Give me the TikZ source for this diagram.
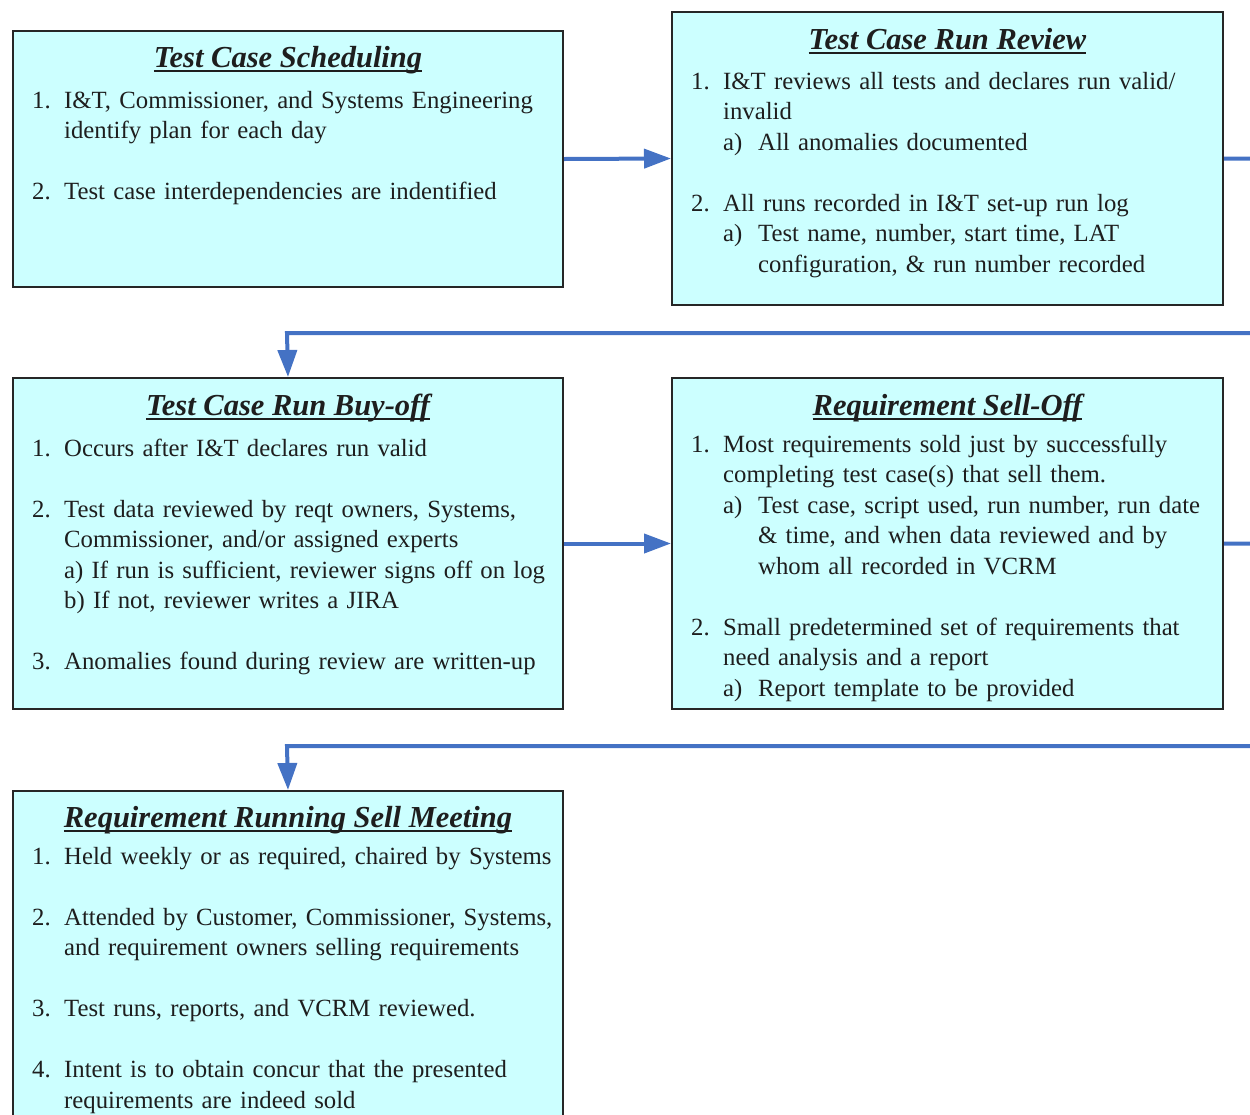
\documentclass[tikz,border=0pt]{standalone}
\usepackage{fontspec}
\setmainfont{Liberation Serif}
\usetikzlibrary{arrows.meta}
\definecolor{boxfill}{RGB}{204,255,255}
\definecolor{arrblue}{RGB}{68,114,196}
\definecolor{txt}{RGB}{30,30,30}
\newcommand\ttl[1]{\setbox0=\hbox{#1}\rlap{\rule[-5bp]{\wd0}{2bp}}\box0}
\newcommand\NI[2]{\makebox[32bp][l]{#1}#2}
\newcommand\CI[1]{\hspace*{32bp}#1}
\newcommand\SI[2]{\hspace*{32bp}\makebox[35bp][l]{#1}#2}
\newcommand\SC[1]{\hspace*{67bp}#1}
\tikzset{
  box/.style={draw=black!85, line width=2bp, fill=boxfill, inner sep=0pt, anchor=north west},
  ttlstyle/.style={anchor=base, inner sep=0pt, text=txt, font=\fontsize{30.5bp}{36bp}\selectfont\bfseries\itshape},
  body/.style={anchor=base west, inner sep=0pt, text=txt, text width=600bp, align=left, font=\fontsize{24.75bp}{30.55bp}\selectfont},
  arr/.style={draw=arrblue, line width=4bp, -{Triangle[length=27bp,width=19bp]}}
}
\begin{document}
\begin{tikzpicture}[x=1bp,y=-1bp]
\useasboundingbox (0,0) rectangle (1250,1115);
\clip (0,0) rectangle (1250,1115);
% boxes
\node[box, minimum width=550bp, minimum height=256bp] (b1) at (12,30) {};
\node[box, minimum width=551bp, minimum height=293bp] (b2) at (671,11) {};
\node[box, minimum width=550bp, minimum height=331bp] (b3) at (12,377) {};
\node[box, minimum width=551bp, minimum height=331bp] (b4) at (671,377) {};
\node[box, minimum width=550bp, minimum height=345bp] (b5) at (12,790) {};
% titles
\node[ttlstyle] (t1) at (b1.center |- 0,67) {\ttl{Test Case Scheduling}};
\node[ttlstyle] (t2) at (b2.center |- 0,49) {\ttl{Test Case Run Review}};
\node[ttlstyle] (t3) at (b3.center |- 0,415) {\ttl{Test Case Run Buy-off}};
\node[ttlstyle] (t4) at (b4.center |- 0,415) {\ttl{Requirement Sell-Off}};
\node[ttlstyle] (t5) at (b5.center |- 0,827) {\ttl{Requirement Running Sell Meeting}};
% bodies
\node[body] (x1) at (32,108) {\NI{1.}{I\&T, Commissioner, and Systems Engineering}\\
\CI{identify plan for each day}\\[30.55bp]
\NI{2.}{Test case interdependencies are indentified}};
\node[body] (x2) at (691,89) {\NI{1.}{I\&T reviews all tests and declares run valid/}\\
\CI{invalid}\\
\SI{a)}{All anomalies documented}\\[30.55bp]
\NI{2.}{All runs recorded in I\&T set-up run log}\\
\SI{a)}{Test name, number, start time, LAT}\\
\SC{configuration, \& run number recorded}};
\node[body] (x3) at (32,456) {\NI{1.}{Occurs after I\&T declares run valid}\\[30.55bp]
\NI{2.}{Test data reviewed by reqt owners, Systems,}\\
\CI{Commissioner, and/or assigned experts}\\
\CI{a) If run is sufficient, reviewer signs off on log}\\
\CI{b) If not, reviewer writes a JIRA}\\[30.55bp]
\NI{3.}{Anomalies found during review are written-up}};
\node[body] (x4) at (691,452) {\NI{1.}{Most requirements sold just by successfully}\\
\CI{completing test case(s) that sell them.}\\
\SI{a)}{Test case, script used, run number, run date}\\
\SC{\& time, and when data reviewed and by}\\
\SC{whom all recorded in VCRM}\\[30.55bp]
\NI{2.}{Small predetermined set of requirements that}\\
\CI{need analysis and a report}\\
\SI{a)}{Report template to be provided}};
\node[body] (x5) at (32,864) {\NI{1.}{Held weekly or as required, chaired by Systems}\\[30.55bp]
\NI{2.}{Attended by Customer, Commissioner, Systems,}\\
\CI{and requirement owners selling requirements}\\[30.55bp]
\NI{3.}{Test runs, reports, and VCRM reviewed.}\\[30.55bp]
\NI{4.}{Intent is to obtain concur that the presented}\\
\CI{requirements are indeed sold}};
% connector coordinates
\coordinate (r1) at (1270,333);
\coordinate (w1) at (287,333);
\coordinate (r2) at (1270,746);
\coordinate (w2) at (287,746);
% connectors
\draw[arr] (b1.east) -- (b2.west);
\draw[arr] (b2.east) -| (r1) -- (w1) -- (b3.north);
\draw[arr] (b3.east) -- (b4.west);
\draw[arr] (b4.east) -| (r2) -- (w2) -- (b5.north);
\end{tikzpicture}
\end{document}
